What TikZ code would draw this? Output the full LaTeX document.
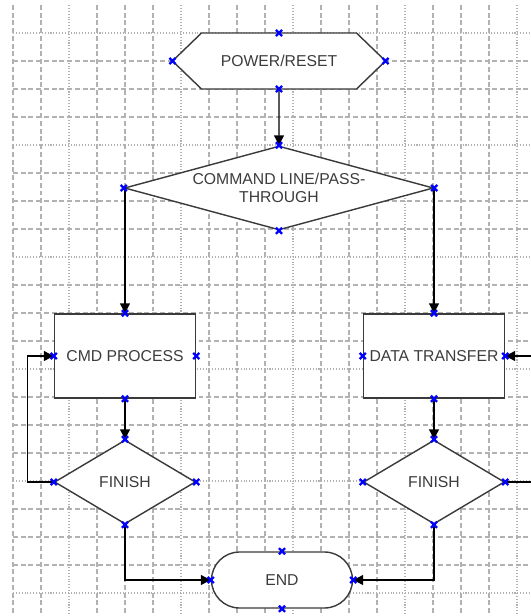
\documentclass[tikz,border=0pt]{standalone}
\usepackage{fontspec}
\setmainfont{Liberation Sans}
\usepackage{tikz}
\usetikzlibrary{shapes, arrows.meta, calc}
\definecolor{gridgray}{RGB}{178,178,178}
\definecolor{outline}{RGB}{58,58,58}
\definecolor{label}{RGB}{60,60,60}
\tikzstyle{block} = [rectangle, draw=outline, fill=white, line width=1pt,
    text=label, minimum width=3.525cm, minimum height=2.1cm, inner sep=0pt]
\tikzstyle{decision} = [diamond, draw=outline, fill=white, line width=1pt,
    text=label, aspect=1.68, minimum width=3.525cm, minimum height=2.1cm, inner sep=0pt]
\tikzstyle{startstop} = [signal, signal to=east and west, signal pointer angle=88,
    draw=outline, fill=white, line width=1pt, text=label,
    minimum width=5.325cm, minimum height=1.4cm, inner sep=0pt, outer sep=0pt]
\tikzstyle{terminal} = [rounded rectangle, draw=outline, fill=white, line width=1pt,
    text=label, minimum width=3.525cm, minimum height=1.4cm, inner sep=0pt]
\tikzstyle{line} = [draw, black, line width=0.8pt, -{Triangle[length=7pt, width=7pt]}]
\tikzstyle{major} = [gridgray, line width=0.75pt, dash pattern=on 3.5pt off 2pt]
\tikzstyle{minor} = [gridgray, line width=0.75pt, dash pattern=on 0.75pt off 1.3pt]
\tikzstyle{xmark} = [blue, line width=1.7pt]

\begin{document}
\begin{tikzpicture}[node distance = 3.15cm, font=\fontsize{11.2}{12.4}\selectfont]
    \useasboundingbox (-0.325,0.125) rectangle (12.95,-15.275);
    % Grid
    \foreach \k [evaluate=\k as \r using {int(mod(\k,4))}] in {0,...,18} {
        \ifnum\r=2 \draw[minor] (\k*0.7,0) -- (\k*0.7,-15.275);
        \else \draw[major] (\k*0.7,0) -- (\k*0.7,-15.275); \fi
    }
    \foreach \k [evaluate=\k as \r using {int(mod(\k,4))}] in {1,...,21} {
        \ifnum\r=1 \draw[minor] (0,-\k*0.7) -- (12.95,-\k*0.7);
        \else \draw[major] (0,-\k*0.7) -- (12.95,-\k*0.7); \fi
    }
    % Nodes
    \node [startstop] (power) at (6.65,-1.4) {POWER/RESET};
    \node [decision, aspect=3.68, minimum width=7.725cm, align=center,
        below of=power, node distance=3.175cm] (cmdline) {COMMAND LINE/PASS-\\THROUGH};
    \node [block] (cmd) at (2.8,-8.775) {CMD PROCESS};
    \node [block, right of=cmd, node distance=7.725cm] (data) {DATA TRANSFER};
    \node [decision, below of=cmd] (finL) {FINISH};
    \node [decision, below of=data] (finR) {FINISH};
    \node [terminal] (endn) at (6.725,-14.375) {END};
    % Edges
    \path[line] (power) -- (cmdline);
    \path[line] (cmdline.west) -| (cmd.north);
    \path[line] (cmdline.east) -| (data.north);
    \path[line] (cmd) -- (finL);
    \path[line] (data) -- (finR);
    \path[line] (finL.west) -- ++(-0.65,0) |- (cmd.west);
    \path[line] (finR.east) -- ++(0.65,0) |- (data.east);
    \path[line] (finL.south) |- (endn.west);
    \path[line] (finR.south) |- (endn.east);
    % Connection points
    \foreach \n in {power, cmdline, cmd, data, finL, finR, endn}
        \foreach \a in {north, south, east, west}
            \draw[xmark] (\n.\a) ++(-2.2pt,-2.2pt) -- ++(4.4pt,4.4pt)
                ++(-4.4pt,0) -- ++(4.4pt,-4.4pt);
\end{tikzpicture}
\end{document}
